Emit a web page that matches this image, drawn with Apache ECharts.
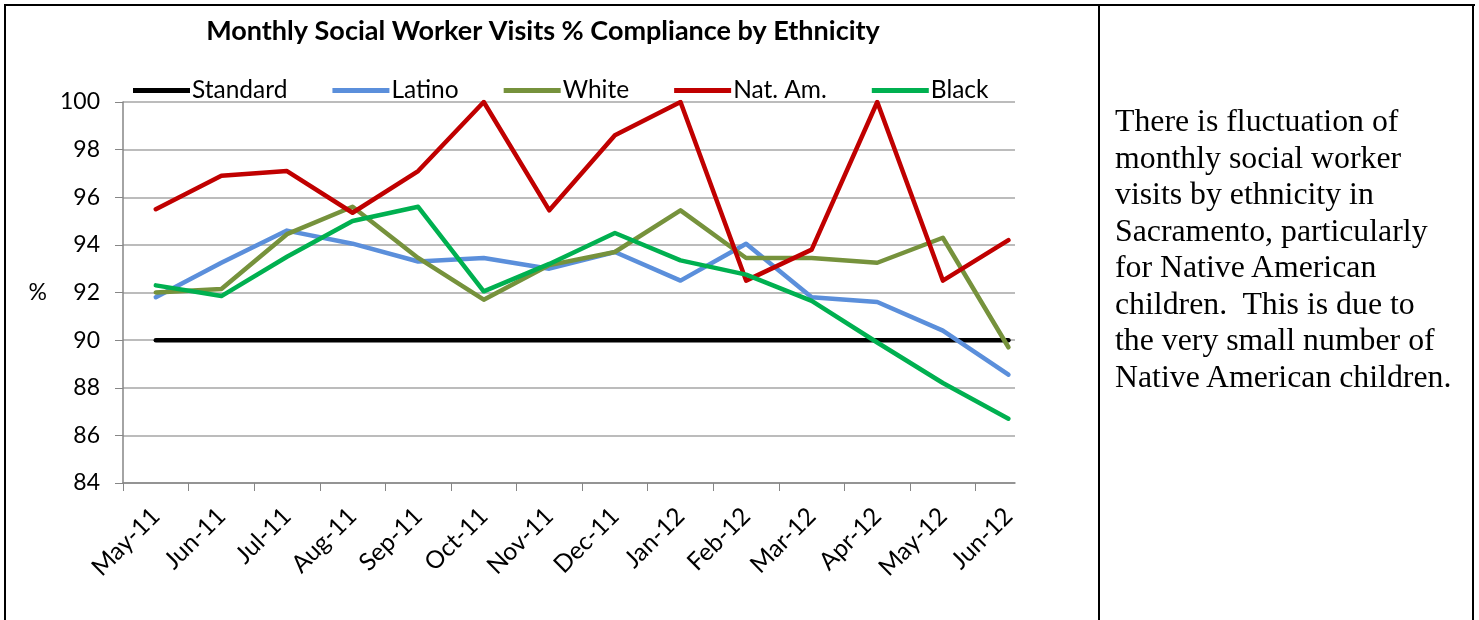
<!DOCTYPE html>
<html>
<head>
<meta charset="utf-8">
<script src="https://cdn.jsdelivr.net/npm/echarts@6/dist/echarts.min.js"></script>
<style>
  html, body { margin: 0; padding: 0; background: #fff; }
  #wrap { position: relative; width: 1479px; height: 620px; overflow: hidden; }
  #chart { position: absolute; left: 0; top: 0; width: 1479px; height: 620px; }
  .frame { position: absolute; background: #000; }
  #note {
    position: absolute; left: 1115px; top: 103px; width: 360px;
    font-family: "Liberation Serif", "DejaVu Serif", serif;
    font-size: 31.8px; line-height: 36.5px; color: #000; white-space: pre;
  }
</style>
</head>
<body>
<div id="wrap">
  <div id="chart"></div>
  <div class="frame" style="left:4px;top:4px;width:1471px;height:2px"></div>
  <div class="frame" style="left:4px;top:4px;width:2px;height:620px"></div>
  <div class="frame" style="left:1098px;top:4px;width:2px;height:620px"></div>
  <div class="frame" style="left:1472px;top:4px;width:2px;height:620px"></div>
  <div id="note">There is fluctuation of
monthly social worker
visits by ethnicity in
Sacramento, particularly
for Native American
children.  This is due to
the very small number of
Native American children.</div>
</div>
<script>
const months = ['May-11', 'Jun-11', 'Jul-11', 'Aug-11', 'Sep-11', 'Oct-11', 'Nov-11',
  'Dec-11', 'Jan-12', 'Feb-12', 'Mar-12', 'Apr-12', 'May-12', 'Jun-12'];
const standard = [90, 90, 90, 90, 90, 90, 90, 90, 90, 90, 90, 90, 90, 90];
const latino = [91.8, 93.25, 94.6, 94.05, 93.3, 93.45, 93.0, 93.7, 92.5, 94.05, 91.8, 91.6, 90.4, 88.55];
const white = [92.0, 92.15, 94.45, 95.6, 93.45, 91.7, 93.15, 93.7, 95.45, 93.45, 93.45, 93.25, 94.3, 89.7];
const natAm = [95.5, 96.9, 97.1, 95.35, 97.1, 100, 95.45, 98.6, 100, 92.5, 93.8, 100, 92.5, 94.2];
const black = [92.3, 91.85, 93.5, 95.0, 95.6, 92.05, 93.2, 94.5, 93.35, 92.75, 91.65, 89.9, 88.2, 86.7];

const chart = echarts.init(document.getElementById('chart'));
const font = 'Lato, "Noto Sans", sans-serif';
const pts = arr => arr.map((v, i) => [i, v]);
// ticks sit between the months, labels on them
const tickPos = months.map((m, i) => i - 0.5);

const mkSeries = (name, data, color) => ({
  name: name,
  type: 'line',
  data: pts(data),
  symbol: 'none',
  lineStyle: { width: 4.5, color: color, cap: 'round', join: 'round' },
  itemStyle: { color: color }
});

const option = {
  animation: false,
  title: {
    text: 'Monthly Social Worker Visits % Compliance by Ethnicity',
    left: 538,
    textAlign: 'center',
    top: 13,
    textStyle: { fontFamily: font, fontSize: 27, fontWeight: 'bold', color: '#000' }
  },
  legend: {
    left: 128,
    top: 73,
    icon: 'rect',
    itemWidth: 57,
    itemHeight: 5,
    itemGap: 45,
    textStyle: { fontFamily: font, fontSize: 24.5, color: '#000', padding: [0, 0, 0, -3] },
    data: ['Standard', 'Latino', 'White', 'Nat. Am.', 'Black']
  },
  grid: { left: 123, top: 102, right: 464, bottom: 137 },
  xAxis: {
    type: 'value',
    min: -0.5,
    max: 13.1,
    splitLine: { show: false },
    axisLine: { show: true, lineStyle: { color: '#868686', width: 1.5 } },
    axisTick: { show: true, customValues: tickPos, length: 8, lineStyle: { color: '#868686' } },
    axisLabel: {
      customValues: months.map((m, i) => i),
      formatter: v => months[Math.round(v)],
      rotate: 45,
      margin: 29,
      fontFamily: font,
      fontSize: 24.5,
      color: '#000'
    }
  },
  yAxis: {
    type: 'value',
    min: 84,
    max: 100,
    interval: 2,
    name: '%',
    nameLocation: 'middle',
    nameRotate: 0,
    nameGap: 76,
    nameTextStyle: { fontFamily: font, fontSize: 23, color: '#000' },
    axisLine: { show: true, onZero: false, lineStyle: { color: '#868686', width: 1.5 } },
    axisTick: { show: true, length: 8, inside: false, lineStyle: { color: '#868686' } },
    axisLabel: { fontFamily: font, fontSize: 23, color: '#000', margin: 23 },
    splitLine: { show: true, lineStyle: { color: '#a6a6a6', width: 1.5 } }
  },
  series: [
    mkSeries('Standard', standard, '#000000'),
    mkSeries('Latino', latino, '#5b8fdb'),
    mkSeries('White', white, '#76923c'),
    mkSeries('Nat. Am.', natAm, '#c00000'),
    mkSeries('Black', black, '#00b050')
  ]
};
chart.setOption(option);
</script>
</body>
</html>
